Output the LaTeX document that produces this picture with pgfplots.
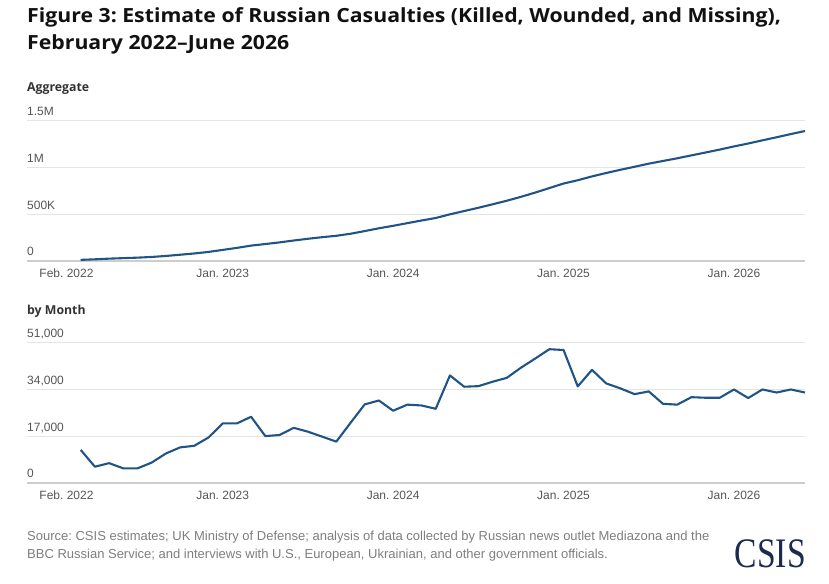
\documentclass[border=0pt]{standalone}
\usepackage{fontspec}
\usepackage{pgfplots}
\pgfplotsset{compat=1.18}
\setmainfont{Liberation Sans}
\newfontfamily\headfont{Open Sans}
\newfontfamily\titlefont{Open Sans}[FakeStretch=1.09]
\newfontfamily\logofont{Liberation Serif}[FakeStretch=0.8]
\frenchspacing

\definecolor{lineblue}{HTML}{205487}
\definecolor{gridgray}{HTML}{E4E4E4}
\definecolor{axisgray}{HTML}{CDCDCD}
\definecolor{ticktext}{HTML}{555555}
\definecolor{labeltext}{HTML}{333333}
\definecolor{titletext}{HTML}{111111}
\definecolor{srcgray}{HTML}{7E7E7E}
\definecolor{logonavy}{HTML}{1B2A4E}

\pgfplotsset{
  panel/.style={
    scale only axis, width=778bp, height=140.7bp,
    xmin=-2.78, xmax=52, ymin=0,
    axis lines=left,
    axis line style={-},
    y axis line style={draw=none},
    x axis line style={draw=axisgray, line width=1.6bp},
    ymajorgrids, grid style={draw=gridgray, line width=0.9bp},
    major tick length=0pt,
    scaled ticks=false,
    xtick={0,11,23,35,47},
    xticklabels={Feb. 2022, Jan. 2023, Jan. 2024, Jan. 2025, Jan. 2026},
    ticklabel style={font=\fontsize{12bp}{14bp}\selectfont, text=ticktext, inner sep=0pt},
    xticklabel style={anchor=north, yshift=-8bp},
    yticklabel style={anchor=base west, yshift=5bp},
    clip=false,
  },
  series/.style={draw=lineblue, line width=2.1bp, mark=none, line join=round},
}

\begin{document}
\begin{tikzpicture}
\useasboundingbox (0,0) rectangle (829bp,584bp);

% Title
\node[anchor=base west, inner sep=0, text=titletext] at (27bp,561bp)
  {\titlefont\bfseries\fontsize{19.5bp}{22bp}\selectfont Figure 3: Estimate of Russian Casualties (Killed, Wounded, and Missing),};
\node[anchor=base west, inner sep=0, text=titletext] at (27bp,534bp)
  {\titlefont\bfseries\fontsize{19.5bp}{22bp}\selectfont February 2022–June 2026};

% Panel headings
\node[anchor=base west, inner sep=0, text=labeltext] at (27bp,492bp)
  {\headfont\bfseries\fontsize{12.3bp}{14bp}\selectfont Aggregate};
\node[anchor=base west, inner sep=0, text=labeltext] at (27bp,269bp)
  {\headfont\bfseries\fontsize{12.3bp}{14bp}\selectfont by Month};

% Cumulative total
\begin{axis}[panel, at={(27bp,323bp)}, anchor=south west,
  ymax=1500000,
  ytick={0,500000,1000000,1500000},
  yticklabels={0,500K,1M,1.5M}]
\addplot[series] coordinates {
(1,12000) (2,17900) (3,25100) (4,30400) (5,35700) (6,43100) (7,53800) (8,66700)
(9,80200) (10,96700) (11,118300) (12,139900) (13,163900) (14,180900) (15,198300)
(16,218300) (17,236900) (18,253700) (19,268700) (20,290500) (21,319000) (22,348900)
(23,375100) (24,403500) (25,431600) (26,458500) (27,497500) (28,532400) (29,567500)
(30,604200) (31,642300) (32,684100) (33,729200) (34,777700) (35,825900) (36,860900)
(37,901900) (38,938000) (39,972300) (40,1004500) (41,1037700) (42,1066400)
(43,1094800) (44,1125900) (45,1156800) (46,1187700) (47,1221600) (48,1252400)
(49,1286300) (50,1319100) (51,1353000) (52,1385800)
};
\end{axis}

% Monthly casualties
\begin{axis}[panel, at={(27bp,101bp)}, anchor=south west,
  ymax=51000,
  ytick={0,17000,34000,51000},
  yticklabels={0,{17,000},{34,000},{51,000}}]
\addplot[series] coordinates {
(1,12000) (2,5900) (3,7200) (4,5300) (5,5300) (6,7400) (7,10700) (8,12900)
(9,13500) (10,16500) (11,21600) (12,21600) (13,24000) (14,17000) (15,17400)
(16,20000) (17,18600) (18,16800) (19,15000) (20,21800) (21,28500) (22,29900)
(23,26200) (24,28400) (25,28100) (26,26900) (27,39000) (28,34900) (29,35100)
(30,36700) (31,38100) (32,41800) (33,45100) (34,48500) (35,48200) (36,35000)
(37,41000) (38,36100) (39,34300) (40,32200) (41,33200) (42,28700) (43,28400)
(44,31100) (45,30900) (46,30900) (47,33900) (48,30800) (49,33900) (50,32800)
(51,33900) (52,32800)
};
\end{axis}

% Source note
\node[anchor=base west, inner sep=0, text=srcgray] at (27bp,43bp)
  {\fontsize{13bp}{15bp}\selectfont Source: CSIS estimates; UK Ministry of Defense; analysis of data collected by Russian news outlet Mediazona and the};
\node[anchor=base west, inner sep=0, text=srcgray] at (27bp,26bp)
  {\fontsize{13bp}{15bp}\selectfont BBC Russian Service; and interviews with U.S., European, Ukrainian, and other government officials.};

% Logo
\node[anchor=base east, inner sep=0, text=logonavy] at (806bp,17bp)
  {\logofont\fontsize{42bp}{44bp}\selectfont CSIS};
\end{tikzpicture}
\end{document}
